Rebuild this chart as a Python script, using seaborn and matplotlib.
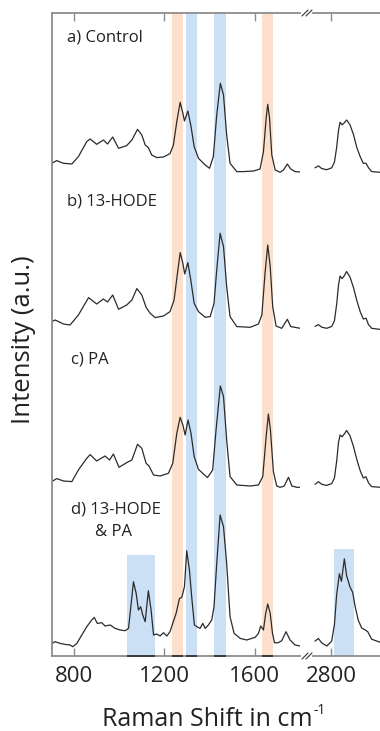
import numpy as np
import pandas as pd
import matplotlib
matplotlib.use("Agg")
import matplotlib.pyplot as plt
import seaborn as sns
from matplotlib.lines import Line2D

sns.set_style("white")
plt.rcParams['font.family'] = ['Open Sans', 'DejaVu Sans']

# fingerprint region (cm-1) and intensities (a.u.)
wn_a = [701, 723, 753, 790, 819, 856, 871, 900, 930, 948, 971, 997, 1033, 1056, 1081,
        1100, 1115, 1129, 1144, 1166, 1196, 1225, 1240, 1255, 1270, 1282, 1289, 1304,
        1317, 1332, 1351, 1381, 1400, 1417, 1432, 1448, 1462, 1476, 1491, 1521, 1550,
        1595, 1624, 1639, 1651, 1658, 1666, 1676, 1691, 1713, 1728, 1745, 1760, 1779, 1802]
int_a = [9.0, 11.7, 9.0, 8.3, 15.7, 30.7, 33.3, 28.0, 32.3, 28.3, 35.3, 24.0, 26.7, 32.3, 43.0,
         37.3, 27.3, 24.7, 17.3, 14.7, 15.3, 18.7, 27.3, 50.7, 70.0, 59.0, 51.3, 61.3,
         47.3, 25.7, 14.0, 7.3, 4.0, 15.7, 57.3, 89.0, 77.3, 37.3, 9.0, 0.7, 0.7,
         1.3, 3.3, 20.7, 54.0, 68.0, 54.0, 17.3, 2.3, 0.0, 2.3, 8.3, 3.3, 0.7, 0.3]

wn_b = [701, 716, 753, 782, 819, 864, 900, 930, 948, 971, 997, 1033, 1056, 1078, 1100,
        1119, 1137, 1159, 1196, 1225, 1243, 1258, 1270, 1282, 1290, 1304, 1317, 1332,
        1351, 1381, 1403, 1420, 1432, 1447, 1462, 1476, 1491, 1521, 1580, 1617, 1632,
        1646, 1658, 1669, 1680, 1695, 1720, 1745, 1760, 1802]
int_b = [6.7, 8.3, 4.3, 3.3, 13.3, 30.7, 24.3, 29.3, 26.3, 33.3, 19.0, 23.3, 28.3, 39.7, 33.3,
         21.0, 15.0, 10.7, 12.3, 16.7, 28.3, 55.0, 75.7, 65.0, 54.3, 65.7, 48.3, 25.0,
         16.7, 11.0, 11.7, 25.0, 58.3, 95.0, 81.7, 41.7, 11.7, 1.7, 1.0, 4.3, 13.3,
         55.0, 83.3, 61.7, 21.7, 2.3, 0.0, 9.0, 1.7, 0.0]

wn_c = [701, 723, 753, 790, 819, 856, 871, 900, 937, 957, 974, 999, 1033, 1056, 1081,
        1100, 1119, 1132, 1152, 1181, 1218, 1237, 1255, 1270, 1282, 1292, 1305, 1318,
        1332, 1351, 1373, 1391, 1414, 1429, 1448, 1462, 1476, 1491, 1521, 1580, 1617,
        1636, 1651, 1661, 1670, 1683, 1698, 1713, 1731, 1750, 1765, 1787, 1802]
int_c = [5.7, 8.7, 6.3, 5.7, 17.3, 29.0, 32.7, 26.3, 31.3, 27.3, 33.3, 20.0, 24.7, 27.3, 43.0,
         39.0, 24.0, 21.3, 12.3, 11.3, 14.0, 24.0, 54.0, 70.0, 62.3, 52.3, 67.3, 54.0,
         30.7, 18.0, 13.3, 9.7, 17.3, 57.3, 101.3, 90.7, 47.3, 10.7, 2.3, 1.3, 2.3,
         10.7, 50.7, 73.3, 57.3, 15.7, 1.3, 0.0, 1.3, 10.0, 1.3, 0.0, 0.0]

wn_d = [701, 716, 738, 760, 782, 794, 812, 834, 856, 878, 889, 903, 923, 937, 960,
        982, 1004, 1026, 1041, 1053, 1063, 1075, 1085, 1095, 1104, 1115, 1129, 1141,
        1152, 1166, 1181, 1196, 1211, 1225, 1237, 1252, 1267, 1277, 1289, 1299, 1311,
        1321, 1333, 1344, 1358, 1370, 1381, 1395, 1410, 1420, 1432, 1447, 1462, 1476,
        1491, 1509, 1536, 1565, 1587, 1602, 1617, 1627, 1639, 1649, 1658, 1669, 1679,
        1688, 1705, 1720, 1739, 1757, 1779, 1802]
int_d = [3.3, 5.0, 3.3, 2.3, 1.7, 0.0, 3.3, 11.7, 20.0, 26.7, 29.3, 23.3, 24.0, 20.7, 21.7,
         18.3, 16.7, 16.0, 18.3, 43.3, 65.0, 53.3, 36.7, 40.0, 31.7, 25.0, 56.0, 36.7,
         11.7, 12.7, 10.7, 14.0, 10.7, 15.0, 23.3, 33.3, 48.3, 49.3, 60.0, 96.0, 76.7,
         50.0, 21.7, 20.0, 18.3, 23.3, 18.3, 21.7, 26.7, 40.0, 83.3, 131.7, 120.0, 83.3,
         30.0, 13.3, 8.3, 6.7, 8.3, 9.3, 13.3, 20.7, 16.7, 33.3, 42.7, 33.3, 13.3,
         4.0, 4.0, 6.0, 15.0, 6.7, 1.7, 0.7]

# CH stretch region
wn_hi = [2729, 2744, 2759, 2781, 2803, 2815, 2825, 2833, 2840, 2849, 2858, 2869, 2884,
         2899, 2914, 2929, 2943, 2955, 2966, 2980, 3017]
hi_a = [4.5, 6.4, 3.7, 2.6, 4.5, 10.1, 25.0, 41.9, 50.1, 47.5, 49.3, 52.3, 47.5,
        38.1, 25.0, 15.7, 9.0, 9.0, 4.5, 0.7, 0.0]
hi_b = [1.9, 3.7, 1.1, 0.0, 1.9, 7.5, 24.3, 43.0, 52.3, 49.7, 52.3, 56.8, 51.2,
        41.1, 28.0, 16.8, 9.3, 10.1, 3.7, 0.0, -1.1]
hi_c = [3.0, 5.6, 3.0, 1.9, 3.7, 9.3, 26.2, 44.9, 52.3, 50.5, 53.1, 56.8, 51.6,
        41.1, 28.0, 16.8, 9.3, 10.5, 4.5, 0.7, 0.0]
wn_hi_d = [2729, 2744, 2759, 2781, 2803, 2815, 2825, 2837, 2846, 2859, 2869, 2884, 2896,
           2906, 2921, 2936, 2951, 2963, 2980, 3017]
hi_d = [5.6, 8.2, 3.7, 0.7, 5.6, 22.4, 52.3, 72.9, 65.4, 87.9, 71.0, 59.8, 54.2,
        41.1, 26.2, 18.7, 16.8, 14.9, 7.5, 4.5]

labels = ["a) Control", "b) 13-HODE", "c) PA", "d) 13-HODE"]
offsets = [483.7, 327.7, 168.7, 9.3]

orange_bands = [(1235, 1281), (1634, 1682)]
blue_bands = [(1297, 1346), (1421, 1472)]
box_lo = (1036, 1160, 101)
box_hi = (2815, 2901, 107)

W, H = 380, 731
fig = plt.figure(figsize=(W / 100, H / 100), dpi=100)
ax = fig.add_axes([52 / W, 1 - 656 / H, 248 / W, 643 / H])
ax2 = fig.add_axes([313 / W, 1 - 656 / H, 67 / W, 643 / H])

orange = "#fde0cc"
blue = "#cbe0f5"
line_c = "#2b2b2b"
spine_c = "#8c8c8c"
text_c = "#222222"

for x0, x1 in orange_bands + blue_bands:
    ax.axvspan(x0, x1, color=orange if (x0, x1) in orange_bands else blue, lw=0, zorder=0)
    ax.hlines(0, x0, x1, color="#333333", lw=1.3, zorder=5, clip_on=False)
ax.fill_between([box_lo[0], box_lo[1]], 0, box_lo[2], color=blue, lw=0, zorder=0)
ax.hlines(0, box_lo[0], box_lo[1], color="#333333", lw=1.3, zorder=5, clip_on=False)
ax2.fill_between([box_hi[0], box_hi[1]], 0, box_hi[2], color=blue, lw=0, zorder=0)

lo = [(wn_a, int_a), (wn_b, int_b), (wn_c, int_c), (wn_d, int_d)]
hi = [(wn_hi, hi_a), (wn_hi, hi_b), (wn_hi, hi_c), (wn_hi_d, hi_d)]
for (xl, yl), (xh, yh), off in zip(lo, hi, offsets):
    sns.lineplot(x=xl, y=np.array(yl) + off, ax=ax, color=line_c, lw=0.9, sort=False)
    sns.lineplot(x=xh, y=np.array(yh) + off, ax=ax2, color=line_c, lw=0.9, sort=False)

ax.set_xlim(702, 1801)
ax2.set_xlim(2720, 3017)
for a in (ax, ax2):
    a.set_ylim(0, 643)
    a.set_yticks([])
    a.set_ylabel("")
    a.set_xlabel("")
    a.tick_params(axis="x", direction="in", length=6, width=1, color=spine_c,
                  top=True, bottom=True, labelsize=16, pad=7, labelcolor=text_c)
    for s in a.spines.values():
        s.set_color(spine_c)
        s.set_linewidth(1.3)
ax.set_xticks([800, 1200, 1600])
ax2.set_xticks([2800])
ax.spines["right"].set_visible(False)
ax2.spines["left"].set_visible(False)
ax2.spines["right"].set_visible(False)


def px(x, y):
    return x / W, 1 - y / H


# axis break marks
for yb in (13, 656):
    for dx in (0, 4):
        (x0, y0), (x1, y1) = px(302 + dx, yb + 3), px(308 + dx, yb - 3)
        fig.add_artist(Line2D([x0, x1], [y0, y1], color="#333333", lw=0.8))

txt_pos = [(67, 37), (67, 201), (71, 360), (71, 509)]
for lab, (x, y) in zip(labels, txt_pos):
    fig.text(*px(x, y), lab, fontsize=12, ha="left", va="center", color=text_c)
fig.text(*px(95, 532), "& PA", fontsize=12, ha="left", va="center", color=text_c)

xl_txt = fig.text(*px(102, 726), "Raman Shift in cm", fontsize=18, ha="left",
                  va="baseline", color=text_c)
fig.canvas.draw()
x_end = xl_txt.get_window_extent().x1
fig.text((x_end + 1) / W, 1 - 714 / H, "-1", fontsize=10, ha="left", va="baseline",
         color=text_c)
fig.text(*px(24, 340), "Intensity (a.u.)", fontsize=18.5, rotation=90,
         ha="center", va="center", color=text_c)

fig.savefig("out.png", dpi=100)
